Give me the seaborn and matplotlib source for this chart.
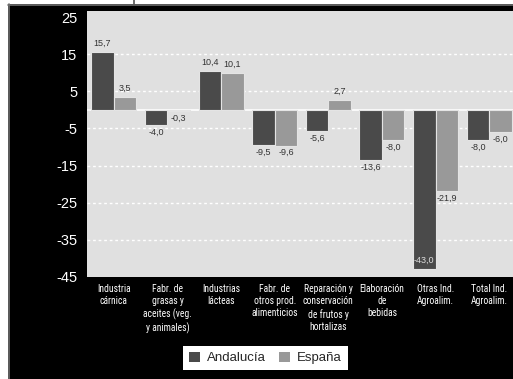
import matplotlib
matplotlib.use("Agg")
import matplotlib.pyplot as plt
from matplotlib import font_manager as fm
from matplotlib.patches import Rectangle
from matplotlib.lines import Line2D
import seaborn as sns
import pandas as pd

# Sector labels and growth rates (%) for each region
categories = [
    "Industria\ncárnica",
    "Fabr. de\ngrasas y\naceites (veg.\ny animales)",
    "Industrias\nlácteas",
    "Fabr. de\notros prod.\nalimenticios",
    "Reparación y\nconservación\nde frutos y\nhortalizas",
    "Elaboración\nde\nbebidas",
    "Otras Ind.\nAgroalim.",
    "Total Ind.\nAgroalim.",
]
andalucia = [15.7, -4.0, 10.4, -9.5, -5.6, -13.6, -43.0, -8.0]
espana = [3.5, -0.3, 10.1, -9.6, 2.7, -8.0, -21.9, -6.0]
series_names = ["Andalucía", "España"]
yticks = [25, 15, 5, -5, -15, -25, -35, -45]

colors = ["#4a4a4a", "#999999"]

df = pd.DataFrame({
    "sector": categories * 2,
    "region": [series_names[0]] * len(categories) + [series_names[1]] * len(categories),
    "valor": andalucia + espana,
})

sns.set_style("white")
plt.rcParams["font.family"] = ["Liberation Sans", "DejaVu Sans"]


def narrow_font():
    """Return FontProperties for a condensed sans face, if one is installed."""
    prefs = ["liberationsansnarrowregular", "robotocondensedregular",
             "dejavusanscondensed.ttf", "opensanscondensed"]
    found = []
    for f in fm.fontManager.ttflist:
        base = f.fname.lower().rsplit("/", 1)[-1]
        if ("narrow" in base or "condensed" in base) and not any(
                k in base for k in ("bold", "italic", "oblique", "light", "semi",
                                    "medium", "thin", "black")):
            found.append((base.replace("-", "").replace("_", ""), f.fname))
    for pref in prefs:
        for base, path in found:
            if pref in base:
                return fm.FontProperties(fname=path), True
    if found:
        return fm.FontProperties(fname=found[0][1]), True
    return fm.FontProperties(family="Roboto"), False


xfont, is_narrow = narrow_font()

W, H = 513, 379
fig = plt.figure(figsize=(W / 100, H / 100), dpi=100, facecolor="black")

# white margins along top and left with thin frame lines
fig.patches.append(Rectangle((0, (H - 4) / H), 1, 4 / H, transform=fig.transFigure,
                             facecolor="white", edgecolor="none", zorder=0))
fig.patches.append(Rectangle((0, 0), 8 / W, 1, transform=fig.transFigure,
                             facecolor="white", edgecolor="none", zorder=0))
fig.lines.append(Line2D([8 / W, 1], [(H - 4.5) / H] * 2, transform=fig.transFigure,
                        color="#6e6e6e", lw=1.2))
fig.lines.append(Line2D([8.5 / W] * 2, [0, (H - 4) / H], transform=fig.transFigure,
                        color="#6e6e6e", lw=1.2))
fig.lines.append(Line2D([134 / W] * 2, [(H - 4) / H, 1], transform=fig.transFigure,
                        color="#555555", lw=1.2))

left, right, top, bottom = 87, 516, 11, 276.7
ax = fig.add_axes([left / W, (H - bottom) / H, (right - left) / W, (bottom - top) / H])
ax.set_facecolor("#e0e0e0")

sns.barplot(data=df, x="sector", y="valor", hue="region", palette=colors,
            width=0.84, edgecolor="#e4e4e4", linewidth=0.8, ax=ax,
            legend=True, saturation=1)

ymin, ymax = -45, 26.7
ax.set_ylim(ymin, ymax)
ax.set_xlim(-0.5, len(categories) - 0.5)

# dashed reference lines and the zero line
for t in yticks:
    if ymin < t < 25:
        ax.axhline(t, color="white", lw=1.0, ls=(0, (2, 2)), zorder=0.5)
ax.axhline(0, color="white", lw=1.2, zorder=0.6)

ax.set_yticks(yticks)
ax.set_yticklabels([str(t) for t in yticks], color="white", fontsize=10.5)
ax.tick_params(axis="y", length=0, pad=7)
ax.tick_params(axis="x", length=0, pad=5)
ax.set_xticks(range(len(categories)))
ax.set_xticklabels(categories, color="white", linespacing=1.3, va="top")
xsize = 6.9 if is_narrow else 6.0
for lab in ax.get_xticklabels():
    lab.set_fontproperties(xfont)
    lab.set_fontsize(xsize)
ax.set_xlabel("")
ax.set_ylabel("")
for s in ax.spines.values():
    s.set_visible(False)

# value labels
for cont, vals in zip(ax.containers, [andalucia, espana]):
    for bar, v in zip(cont, vals):
        x = bar.get_x() + bar.get_width() / 2
        txt = f"{v:.1f}".replace(".", ",")
        if v >= 0:
            ax.annotate(txt, (x, v), xytext=(0, 3), textcoords="offset points",
                        ha="center", va="bottom", fontsize=6.5, color="#333333")
        elif v - 3 < ymin:
            ax.annotate(txt, (x, v), xytext=(0, 3), textcoords="offset points",
                        ha="center", va="bottom", fontsize=6.5, color="#dddddd")
        else:
            ax.annotate(txt, (x, v), xytext=(0, -2), textcoords="offset points",
                        ha="center", va="top", fontsize=6.5, color="#333333")

ax.get_legend().remove()
handles = [Rectangle((0, 0), 1, 1, facecolor=c, edgecolor="none") for c in colors]
leg = fig.legend(handles, series_names, loc="center", bbox_to_anchor=(265.5 / W, (H - 358) / H),
                 ncol=2, frameon=True, fancybox=False, fontsize=9.5,
                 handlelength=0.85, handleheight=0.85, handletextpad=0.5,
                 columnspacing=1.0, borderpad=0.45, borderaxespad=0)
leg.get_frame().set_facecolor("white")
leg.get_frame().set_edgecolor("none")
leg.get_frame().set_alpha(1)

fig.savefig("out.png", dpi=100, facecolor="black")
